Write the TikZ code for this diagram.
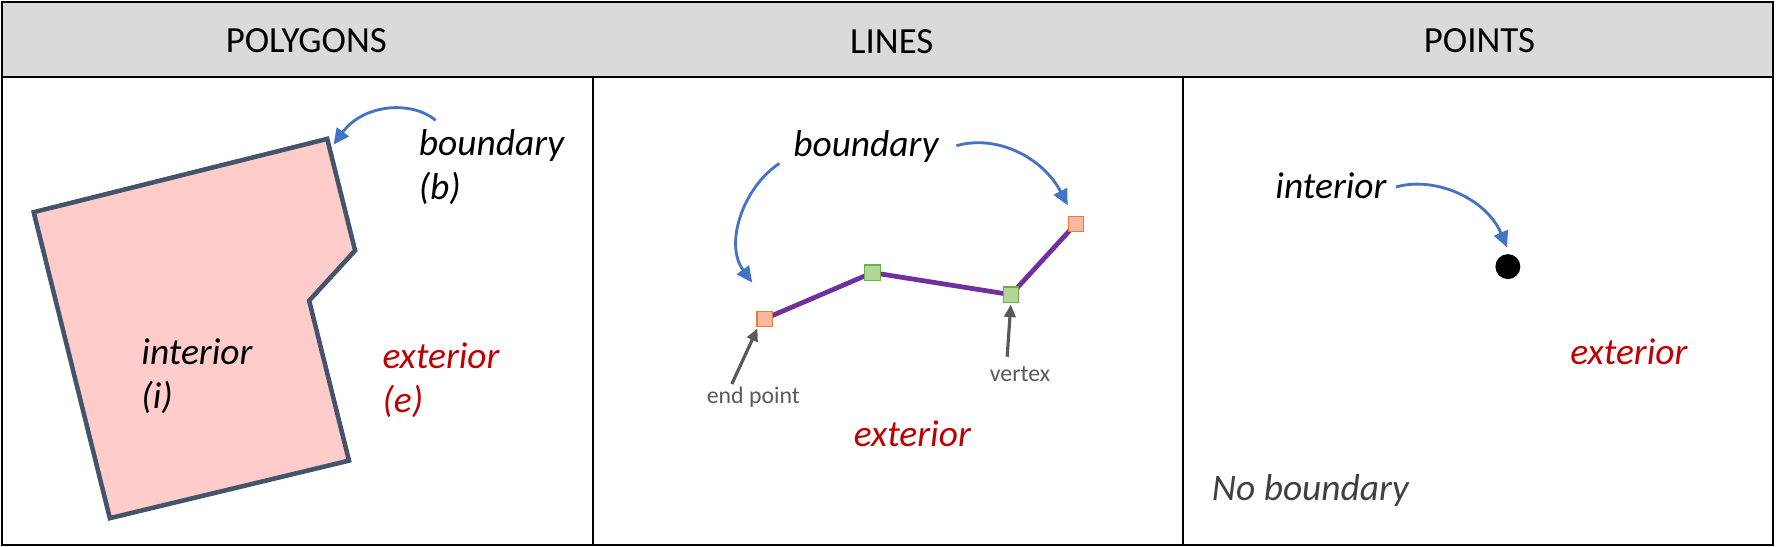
\documentclass[tikz,border=0pt]{standalone}
\usepackage{fontspec}
\setmainfont{Carlito}
\usetikzlibrary{arrows.meta}
\definecolor{hdr}{HTML}{DADADA}
\definecolor{polyfill}{HTML}{FFCCCC}
\definecolor{polyline}{HTML}{44546A}
\definecolor{exred}{HTML}{C00000}
\definecolor{arrblue}{HTML}{4472C4}
\definecolor{linepurple}{HTML}{7030A0}
\definecolor{orfill}{HTML}{F8B9A0}
\definecolor{ordraw}{HTML}{ED7D31}
\definecolor{grfill}{HTML}{B0D698}
\definecolor{grdraw}{HTML}{70AD47}
\definecolor{lblgray}{HTML}{595959}
\definecolor{nogray}{HTML}{404040}
\begin{document}
\begin{tikzpicture}[x=1pt,y=-1pt,
  frame/.style={draw=black, line width=1.8pt},
  hdrtext/.style={font=\fontsize{32.5}{39}\selectfont, inner sep=0pt, anchor=base},
  lbl/.style={font=\fontsize{33}{39}\selectfont\itshape, inner sep=0pt, align=left, anchor=north west},
  lblone/.style={font=\fontsize{33}{39}\selectfont\itshape, inner sep=0pt, anchor=base west},
  smalllbl/.style={font=\fontsize{21}{25}\selectfont, text=lblgray, inner sep=0pt, anchor=base},
  bluearrow/.style={draw=arrblue, line width=2.5pt, -{Triangle[length=14pt,width=13pt]}},
  grayarrow/.style={draw=lblgray, line width=2.8pt, -{Triangle[length=11pt,width=10pt]}},
  endsq/.style={draw=ordraw, fill=orfill, line width=1pt, minimum size=13.5pt, inner sep=0pt},
  vertsq/.style={draw=grdraw, fill=grfill, line width=1pt, minimum size=13.5pt, inner sep=0pt},
  purpleline/.style={draw=linepurple, line width=4.2pt},
]
\useasboundingbox (0,0) rectangle (1568,482);
% table
\fill[hdr] (2,2) rectangle (1563,68);
\draw[frame] (2,2) rectangle (1563,480);
\draw[frame] (2,68) -- (1563,68);
\draw[frame] (523,68) -- (523,480);
\draw[frame] (1043,68) -- (1043,480);
\node[hdrtext] (hpoly) at (270,46) {POLYGONS};
\node[hdrtext] (hline) at (786,47) {LINES};
\node[hdrtext] (hpts) at (1304,46) {POINTS};

% polygon panel
\draw[fill=polyfill, draw=polyline, line width=4pt, line join=miter]
  (29.7,187) -- (288.4,122.4) -- (313,220.8) -- (272.5,265) -- (307.6,406) -- (96.8,456.7) -- cycle;
\node[lbl] (pb) at (369,114) {boundary\\(b)};
\node[lbl] (pi) at (124.5,298) {interior\\(i)};
\node[lbl, text=exred] (pe) at (337,302) {exterior\\(e)};
\coordinate (pbs) at (384,106);
\coordinate (pbt) at (294,127.5);
\draw[bluearrow] (pbs) .. controls (362,88) and (320,92) .. (pbt);

% lines panel
\coordinate (c1) at (674,281);
\coordinate (c2) at (769,240.3);
\coordinate (c3) at (891,259.7);
\coordinate (c4) at (948.3,197.2);
\draw[purpleline] (c1) -- (c2) -- (c3) -- (c4);
\node[endsq] (e1) at (c1) {};
\node[vertsq] (v1) at (c2) {};
\node[vertsq] (v2) at (c3) {};
\node[endsq] (e2) at (c4) {};
\node[lblone] (lb) at (699,138) {boundary};
\node[lblone, text=exred] (le) at (752.4,393.7) {exterior};
\node[smalllbl] (ep) at (664,356) {end point};
\node[smalllbl] (vx) at (899,336) {vertex};
\coordinate (lbs1) at (687,144);
\coordinate (lbt1) at (663,249);
\coordinate (lbs2) at (843,128.4);
\coordinate (lbt2) at (941,181);
\draw[bluearrow] (lbs1) .. controls (655,165) and (638,215) .. (lbt1);
\draw[bluearrow] (lbs2) .. controls (880,118) and (920,140) .. (lbt2);
\coordinate (eps) at (645,338.5);
\coordinate (ept) at (667.6,289.5);
\coordinate (vxs) at (887.7,314.4);
\draw[grayarrow] (eps) -- (ept);
\draw[grayarrow, shorten >=1.5pt] (vxs) -- (v2.south);

% points panel
\node[circle, fill=black, minimum size=22pt, inner sep=0pt] (pt) at (1329,235) {};
\node[lblone] (pti) at (1124,175) {interior};
\node[lblone, text=exred] (pte) at (1384,321) {exterior};
\node[lblone, text=nogray] (nb) at (1068,441) {No boundary};
\coordinate (pts) at (1230.4,164.8);
\coordinate (ptt) at (1328.3,218);
\draw[bluearrow] (pts) .. controls (1265,155) and (1310,175) .. (ptt);
\end{tikzpicture}
\end{document}
